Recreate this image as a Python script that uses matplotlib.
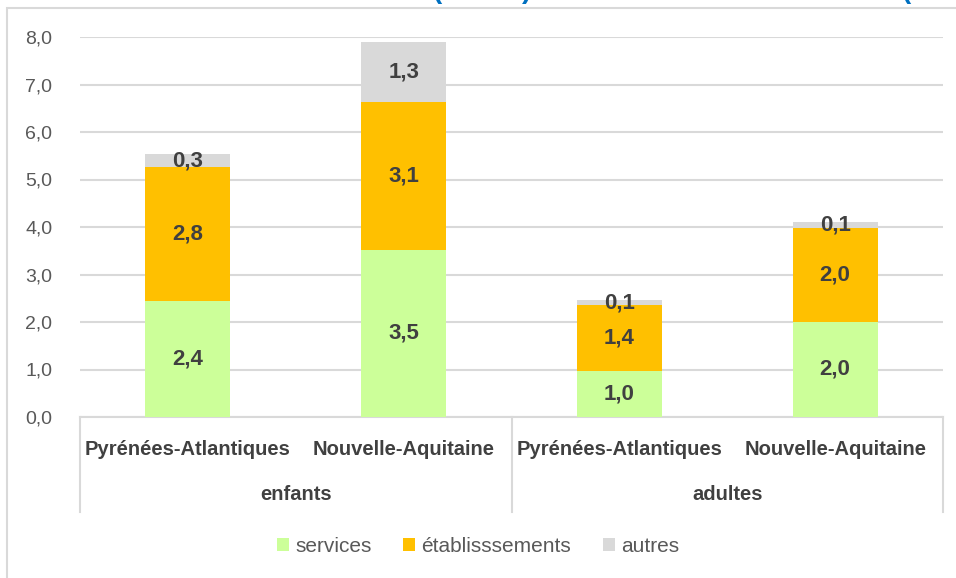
import numpy as np
import matplotlib.pyplot as plt
from matplotlib.lines import Line2D
from matplotlib.patches import Rectangle

plt.rcParams['font.family'] = ['Liberation Sans', 'DejaVu Sans']

# Données
regions = ["Pyrénées-Atlantiques", "Nouvelle-Aquitaine", "Pyrénées-Atlantiques", "Nouvelle-Aquitaine"]
groupes = ["enfants", "adultes"]
services = [2.44, 3.52, 0.96, 2.00]
etablissements = [2.82, 3.11, 1.40, 1.98]
autres = [0.28, 1.26, 0.10, 0.12]
series_noms = ["services", "établisssements", "autres"]
couleurs = ["#ccff99", "#ffc000", "#d9d9d9"]

fig = plt.figure(figsize=(9.56, 5.78), dpi=100)
ax = fig.add_axes([80/956, 1-417/578, (943-80)/956, (417-37)/578])

# cadre du graphique
fig.patches.append(Rectangle((7/956, -0.05), 1.0, 1-8/578+0.05, transform=fig.transFigure,
                             fill=False, edgecolor="#d9d9d9", lw=1.5))

# titre (coupé en haut de l'image, seules les parenthèses dépassent)
for xt, t in [(437/956, "("), (527/956, ")"), (906/956, "(")]:
    fig.text(xt, 1.016, t, color="#0070c0", fontsize=20, fontweight='bold', ha='center', va='center')

x = np.arange(len(regions))
w = 0.395
bas = np.zeros(len(regions))
for vals, nom, c in zip([services, etablissements, autres], series_noms, couleurs):
    vals = np.array(vals)
    ax.bar(x, vals, w, bottom=bas, color=c, label=nom, zorder=3)
    for xi, b, v in zip(x, bas, vals):
        ax.text(xi, b + v/2, f"{v:.1f}".replace(".", ","), ha='center', va='center',
                fontsize=16, fontweight='bold', color="#404040", zorder=4)
    bas = bas + vals

ax.set_xlim(-0.5, 3.5)
ax.set_ylim(0, 8)
ax.set_yticks(np.arange(0, 8.1, 1))
ax.set_yticklabels([f"{v:.1f}".replace(".", ",") for v in np.arange(0, 8.1, 1)])
ax.tick_params(axis='y', length=0, labelsize=14, labelcolor="#595959", pad=20)
ax.set_xticks([])
ax.grid(axis='y', color="#d9d9d9", lw=1.5, zorder=0)
for s in ['top', 'right', 'left']:
    ax.spines[s].set_visible(False)
ax.spines['bottom'].set_color("#d9d9d9")
ax.spines['bottom'].set_linewidth(1.5)

# axe des catégories à deux niveaux
tr = ax.get_xaxis_transform()
for xi, r in zip(x, regions):
    ax.text(xi, -0.085, r, transform=tr, ha='center', va='center', fontsize=14.5,
            fontweight='bold', color="#404040")
for gi, g in enumerate(groupes):
    ax.text(2*gi + 0.5, -0.205, g, transform=tr, ha='center', va='center', fontsize=14.5,
            fontweight='bold', color="#404040")
for xs in [-0.5, 1.5, 3.5]:
    ax.add_line(Line2D([xs, xs], [0, -0.25], transform=tr, color="#d9d9d9", lw=1.5, clip_on=False))

fig.legend(loc='center', bbox_to_anchor=(0.5, 1-546/578), ncol=3, frameon=False,
           fontsize=15, handlelength=0.6, handleheight=0.6, handletextpad=0.3,
           columnspacing=1.5, labelcolor="#595959")

fig.savefig("out.png", dpi=100)
